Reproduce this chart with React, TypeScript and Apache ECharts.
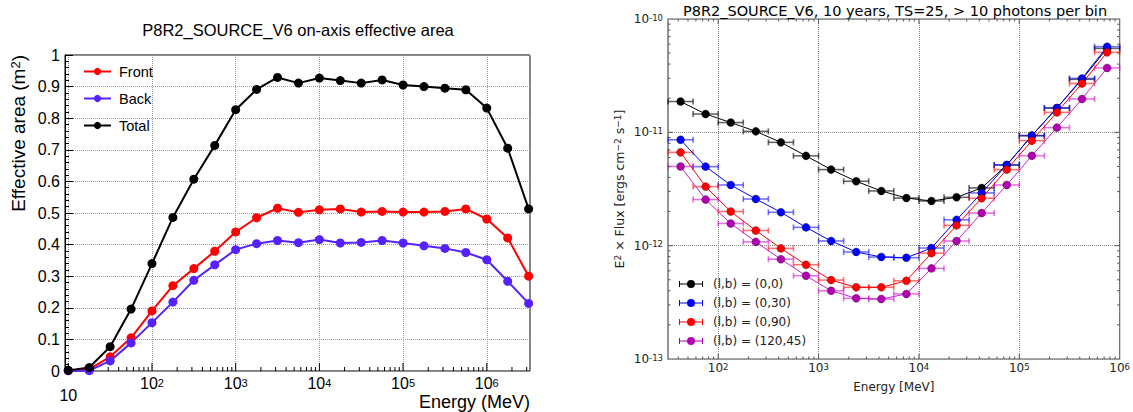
import React, { useEffect, useRef } from 'react';
import * as echarts from 'echarts';

// ---------------- Left chart: effective area ----------------
const areaEnergies = [10, 17.78, 31.62, 56.23, 100, 177.8, 316.2, 562.3, 1000, 1778, 3162, 5623, 10000, 17783, 31623, 56234, 100000, 177828, 316228, 562341, 1000000, 1778279, 3162278];
const areaFront = [0.001, 0.006, 0.045, 0.105, 0.190, 0.270, 0.324, 0.379, 0.440, 0.485, 0.515, 0.502, 0.510, 0.513, 0.503, 0.505, 0.503, 0.503, 0.505, 0.513, 0.481, 0.421, 0.300];
const areaBack = [0.001, 0.001, 0.032, 0.089, 0.153, 0.218, 0.287, 0.336, 0.384, 0.403, 0.413, 0.406, 0.416, 0.405, 0.407, 0.413, 0.405, 0.396, 0.388, 0.375, 0.352, 0.284, 0.214];
const areaTotal = [0.002, 0.011, 0.077, 0.196, 0.340, 0.486, 0.607, 0.714, 0.827, 0.891, 0.929, 0.911, 0.927, 0.919, 0.911, 0.921, 0.905, 0.900, 0.895, 0.890, 0.832, 0.705, 0.513];
const areaNames = ['Front', 'Back', 'Total'];

// ---------------- Right chart: sensitivity ----------------
const binCenters = [42.17, 74.99, 133.4, 237.1, 421.7, 749.9, 1334, 2371, 4217, 7499, 13335, 23714, 42170, 74989, 133352, 237137, 421697, 749894];
const binLow = [31.62, 56.23, 100, 177.8, 316.2, 562.3, 1000, 1778, 3162, 5623, 10000, 17783, 31623, 56234, 100000, 177828, 316228, 562341];
const binHigh = [56.23, 100, 177.8, 316.2, 562.3, 1000, 1778, 3162, 5623, 10000, 17783, 31623, 56234, 100000, 177828, 316228, 562341, 1000000];
const flux_0_0 = [1.87e-11, 1.45e-11, 1.22e-11, 1.02e-11, 8.16e-12, 6.2e-12, 4.69e-12, 3.7e-12, 3.04e-12, 2.63e-12, 2.48e-12, 2.67e-12, 3.23e-12, 5.15e-12, 9.35e-12, 1.64e-11, 2.94e-11, 5.5e-11];
const flux_0_30 = [8.6e-12, 4.98e-12, 3.43e-12, 2.58e-12, 1.97e-12, 1.45e-12, 1.10e-12, 8.8e-13, 7.94e-13, 7.83e-13, 9.53e-13, 1.69e-12, 2.92e-12, 5.15e-12, 9.35e-12, 1.64e-11, 2.99e-11, 5.7e-11];
const flux_0_90 = [6.66e-12, 3.32e-12, 2.0e-12, 1.36e-12, 9.46e-13, 6.79e-13, 4.97e-13, 4.29e-13, 4.29e-13, 4.9e-13, 8.6e-13, 1.51e-12, 2.62e-12, 4.69e-12, 8.44e-12, 1.5e-11, 2.7e-11, 5.08e-11];
const flux_120_45 = [5.0e-12, 2.55e-12, 1.57e-12, 1.08e-12, 7.6e-13, 5.43e-13, 4.0e-13, 3.43e-13, 3.38e-13, 3.75e-13, 6.3e-13, 1.1e-12, 1.94e-12, 3.43e-12, 6.22e-12, 1.1e-11, 1.97e-11, 3.7e-11];
const fluxNames = ['(l,b) = (0,0)', '(l,b) = (0,30)', '(l,b) = (0,90)', '(l,b) = (120,45)'];
// plotted in units of 1e-13 erg cm^-2 s^-1
const FLUX_UNIT = 1e-13;
const FLUX_UNIT_EXP = -13;

const LEFT_FONT = '"Liberation Sans", Arial, Helvetica, sans-serif';
const RIGHT_FONT = '"DejaVu Sans", "Liberation Sans", sans-serif';

function logMajors(min: number, max: number): number[] {
  const out: number[] = [];
  for (let d = Math.floor(Math.log10(min)); d <= Math.ceil(Math.log10(max)); d++) {
    const v = Math.pow(10, d);
    if (v > min * 1.0001 && v < max * 0.9999) out.push(v);
  }
  return out;
}
function logMinors(min: number, max: number): number[] {
  const out: number[] = [];
  for (let d = Math.floor(Math.log10(min)); d <= Math.ceil(Math.log10(max)); d++) {
    for (let m = 2; m <= 9; m++) {
      const v = m * Math.pow(10, d);
      if (v > min * 1.0001 && v < max * 0.9999) out.push(v);
    }
  }
  return out;
}

function tickRenderer(color: string, width: number) {
  return (params: any, api: any) => {
    const p = api.coord([api.value(0), api.value(1)]);
    const len = api.value(2);
    const side = api.value(3);
    let x2 = p[0];
    let y2 = p[1];
    if (side === 0) y2 = p[1] - len;
    else if (side === 1) y2 = p[1] + len;
    else if (side === 2) x2 = p[0] + len;
    else x2 = p[0] - len;
    return {
      type: 'line',
      shape: { x1: p[0], y1: p[1], x2, y2 },
      style: { stroke: color, lineWidth: width },
    };
  };
}

function errRenderer(color: string) {
  return (params: any, api: any) => {
    const lo = api.coord([api.value(0), api.value(2)]);
    const hi = api.coord([api.value(1), api.value(2)]);
    const st = { stroke: color, lineWidth: 1.6 };
    return {
      type: 'group',
      children: [
        { type: 'line', shape: { x1: lo[0], y1: lo[1], x2: hi[0], y2: hi[1] }, style: st },
        { type: 'line', shape: { x1: lo[0], y1: lo[1] - 3, x2: lo[0], y2: lo[1] + 3 }, style: st },
        { type: 'line', shape: { x1: hi[0], y1: hi[1] - 3, x2: hi[0], y2: hi[1] + 3 }, style: st },
      ],
    };
  };
}

export default function App() {
  const ref = useRef<HTMLDivElement>(null);

  useEffect(() => {
    if (!ref.current) return;
    const chart = echarts.init(ref.current, null, { renderer: 'svg' });

    // left axis ranges
    const LX_MIN = 9.134;
    const LX_MAX = 3.285e6;
    // right axis ranges
    const RX_MIN = 31.6228;
    const RX_MAX = 1e6;
    const RY_MIN = 1; // 1e-13
    const RY_MAX = 1000; // 1e-10

    const leftTicks: number[][] = [];
    logMajors(LX_MIN, LX_MAX).forEach((v) => leftTicks.push([v, 0, 8, 0]));
    logMinors(LX_MIN, LX_MAX).forEach((v) => leftTicks.push([v, 0, 4, 0]));

    const rightTicks: number[][] = [];
    logMajors(RX_MIN, RX_MAX).forEach((v) => {
      rightTicks.push([v, RY_MIN, 5, 0]);
      rightTicks.push([v, RY_MAX, 5, 1]);
    });
    logMinors(RX_MIN, RX_MAX).forEach((v) => {
      rightTicks.push([v, RY_MIN, 2.5, 0]);
      rightTicks.push([v, RY_MAX, 2.5, 1]);
    });
    logMajors(RY_MIN, RY_MAX).forEach((v) => {
      rightTicks.push([RX_MIN, v, 5, 2]);
      rightTicks.push([RX_MAX, v, 5, 3]);
    });
    logMinors(RY_MIN, RY_MAX).forEach((v) => {
      rightTicks.push([RX_MIN, v, 2.5, 2]);
      rightTicks.push([RX_MAX, v, 2.5, 3]);
    });

    const leftXLabel = (v: number) => {
      const l = Math.log10(v);
      const e = Math.round(l);
      if (Math.abs(l - e) > 0.01) return '';
      if (e === 1) return '{p|10}';
      return '{b|10}{s|' + e + '}';
    };
    const rightLabel = (offset: number) => (v: number) => {
      const l = Math.log10(v);
      const e = Math.round(l);
      if (Math.abs(l - e) > 0.01) return '';
      return '{b|10}{s|' + (e + offset) + '}';
    };

    const fluxSets = [flux_0_0, flux_0_30, flux_0_90, flux_120_45];
    const markerColors = ['#000000', '#0000ff', '#ff0000', '#b000b0'];
    const lineColors = ['#000000', '#0000ff', '#ff0000', '#cc22cc'];
    const errColors = ['rgba(0,0,0,0.6)', 'rgba(0,0,255,0.55)', 'rgba(255,0,0,0.55)', 'rgba(210,0,210,0.55)'];

    const rightSeries: any[] = [];
    fluxSets.forEach((vals, i) => {
      rightSeries.push({
        type: 'custom',
        name: fluxNames[i] + ' err',
        xAxisIndex: 1,
        yAxisIndex: 1,
        silent: true,
        renderItem: errRenderer(errColors[i]),
        encode: { x: [0, 1], y: 2 },
        data: vals.map((v, k) => [binLow[k], binHigh[k], v / FLUX_UNIT]),
        z: 3,
      });
      rightSeries.push({
        type: 'line',
        name: fluxNames[i],
        xAxisIndex: 1,
        yAxisIndex: 1,
        silent: true,
        symbol: 'circle',
        symbolSize: 8,
        showAllSymbol: true,
        lineStyle: { color: lineColors[i], width: 1 },
        itemStyle: { color: markerColors[i], borderColor: 'rgba(0,0,0,0.45)', borderWidth: 0.6 },
        data: vals.map((v, k) => [binCenters[k], v / FLUX_UNIT]),
        z: 3,
      });
    });

    const legendIcon =
      'path://M0,3.5L24,3.5L24,4.5L0,4.5Z M0,1L1,1L1,7L0,7Z M23,1L24,1L24,7L23,7Z M16,4A4,4 0 1 1 8,4A4,4 0 1 1 16,4Z';

    const leftColors = ['#ff0000', '#5522ff', '#000000'];
    const leftSets = [areaFront, areaBack, areaTotal];

    const option: any = {
      animation: false,
      backgroundColor: '#ffffff',
      title: [
        {
          text: 'P8R2_SOURCE_V6 on-axis effective area',
          left: 298,
          top: 21,
          textAlign: 'center',
          padding: 0,
          textStyle: { fontSize: 16.5, fontWeight: 'normal', fontFamily: LEFT_FONT, color: '#000' },
        },
        {
          text: 'P8R2_SOURCE_V6, 10 years, TS=25, > 10 photons per bin',
          left: 895,
          top: 3,
          textAlign: 'center',
          padding: 0,
          textStyle: { fontSize: 14.5, fontWeight: 'normal', fontFamily: RIGHT_FONT, color: '#000' },
        },
      ],
      legend: [
        {
          data: areaNames,
          orient: 'vertical',
          left: 83,
          top: 63,
          itemWidth: 27,
          itemHeight: 9,
          itemGap: 10,
          selectedMode: false,
          padding: 0,
          textStyle: { fontSize: 14.5, fontFamily: LEFT_FONT, color: '#000', lineHeight: 17, padding: [0, 0, 0, 3] },
        },
        {
          data: fluxNames.map((n) => ({ name: n, icon: legendIcon })),
          orient: 'vertical',
          left: 679,
          top: 277,
          itemWidth: 24,
          itemHeight: 8,
          itemGap: 5,
          selectedMode: false,
          padding: 0,
          itemStyle: { borderWidth: 0 },
          lineStyle: { width: 0 },
          textStyle: { fontSize: 12, fontFamily: RIGHT_FONT, color: '#222', lineHeight: 14, padding: [0, 0, 0, 5] },
        },
      ],
      grid: [
        { left: 65, top: 55, width: 465, height: 316, show: true, borderColor: '#000', borderWidth: 1, containLabel: false },
        { left: 668, top: 19, width: 454, height: 340, show: true, borderColor: '#555', borderWidth: 1.2, containLabel: false },
      ],
      xAxis: [
        {
          type: 'log',
          logBase: 10,
          gridIndex: 0,
          min: LX_MIN,
          max: LX_MAX,
          axisLine: { show: false },
          axisTick: { show: false },
          splitLine: { show: true, lineStyle: { type: 'dotted', color: '#999', width: 1 } },
          axisLabel: {
            formatter: leftXLabel,
            margin: 6,
            color: '#000',
            rich: {
              b: { fontSize: 16, fontFamily: LEFT_FONT, color: '#000', lineHeight: 14, verticalAlign: 'bottom', padding: [7, 0, 0, 0] },
              s: { fontSize: 11, fontFamily: LEFT_FONT, color: '#000', lineHeight: 11, verticalAlign: 'top' },
              p: { fontSize: 16, fontFamily: LEFT_FONT, color: '#000', lineHeight: 16, padding: [20, 0, 0, 0] },
            },
          },
        },
        {
          type: 'log',
          logBase: 10,
          gridIndex: 1,
          min: RX_MIN,
          max: RX_MAX,
          axisLine: { show: false },
          axisTick: { show: false },
          splitLine: { show: true, lineStyle: { type: 'dotted', color: '#888', width: 1 } },
          axisLabel: {
            formatter: rightLabel(0),
            margin: 3,
            color: '#222',
            rich: {
              b: { fontSize: 12, fontFamily: RIGHT_FONT, color: '#222', lineHeight: 12, verticalAlign: 'bottom', padding: [3, 0, 0, 0] },
              s: { fontSize: 8.5, fontFamily: RIGHT_FONT, color: '#222', lineHeight: 9, verticalAlign: 'top' },
            },
          },
          name: 'Energy [MeV]',
          nameLocation: 'middle',
          nameGap: 22,
          nameTextStyle: { fontSize: 12, fontFamily: RIGHT_FONT, color: '#222' },
        },
      ],
      yAxis: [
        {
          type: 'value',
          gridIndex: 0,
          min: 0,
          max: 1,
          interval: 0.1,
          axisLine: { show: true, lineStyle: { color: '#000', width: 1 } },
          axisTick: { show: true, inside: true, length: 8, lineStyle: { color: '#000', width: 1 } },
          minorTick: { show: true, splitNumber: 5, length: 4, lineStyle: { color: '#000', width: 1 } },
          splitLine: { show: true, lineStyle: { type: 'dotted', color: '#999', width: 1 } },
          axisLabel: {
            margin: 5,
            fontSize: 16,
            fontFamily: LEFT_FONT,
            color: '#000',
            formatter: (v: number) => (v === 0 ? '0' : Math.abs(v - 1) < 1e-9 ? '1' : v.toFixed(1)),
          },
        },
        {
          type: 'log',
          logBase: 10,
          gridIndex: 1,
          min: RY_MIN,
          max: RY_MAX,
          splitNumber: 3,
          axisLine: { show: false },
          axisTick: { show: false },
          splitLine: { show: true, lineStyle: { type: 'dotted', color: '#888', width: 1 } },
          axisLabel: {
            formatter: rightLabel(FLUX_UNIT_EXP),
            margin: 5,
            color: '#222',
            rich: {
              b: { fontSize: 12, fontFamily: RIGHT_FONT, color: '#222', lineHeight: 12, verticalAlign: 'bottom', padding: [3, 0, 0, 0] },
              s: { fontSize: 8.5, fontFamily: RIGHT_FONT, color: '#222', lineHeight: 9, verticalAlign: 'top' },
            },
          },
          name: '{t|E}{s|2}{t| × Flux [ergs cm}{s|−2}{t| s}{s|−1}{t|]}',
          nameLocation: 'middle',
          nameRotate: 90,
          nameGap: 42,
          nameTextStyle: {
            rich: {
              t: { fontSize: 12.5, fontFamily: RIGHT_FONT, color: '#222', lineHeight: 12.5, verticalAlign: 'bottom', padding: [3, 0, 0, 0] },
              s: { fontSize: 9, fontFamily: RIGHT_FONT, color: '#222', lineHeight: 9, verticalAlign: 'top' },
            },
          },
        },
      ],
      graphic: [
        {
          type: 'text',
          x: 18,
          y: 55,
          rotation: Math.PI / 2,
          silent: true,
          style: {
            text: '{t|Effective area (m}{s|2}{t|)}',
            align: 'right',
            verticalAlign: 'middle',
            rich: {
              t: { fontSize: 19, fontFamily: LEFT_FONT, fill: '#000', color: '#000', lineHeight: 19, verticalAlign: 'bottom', padding: [5, 0, 0, 0] },
              s: { fontSize: 13, fontFamily: LEFT_FONT, fill: '#000', color: '#000', lineHeight: 13, verticalAlign: 'top' },
            },
          },
        },
        {
          type: 'text',
          x: 530,
          y: 401.5,
          silent: true,
          style: {
            text: 'Energy (MeV)',
            align: 'right',
            verticalAlign: 'middle',
            fontSize: 18,
            fontFamily: LEFT_FONT,
            fill: '#000',
          },
        },
      ],
      series: [
        ...leftSets.map((vals, i) => ({
          type: 'line',
          name: areaNames[i],
          xAxisIndex: 0,
          yAxisIndex: 0,
          silent: true,
          symbol: 'circle',
          symbolSize: 9,
          showAllSymbol: true,
          lineStyle: { color: leftColors[i], width: 2 },
          itemStyle: { color: leftColors[i] },
          data: vals.map((v, k) => [areaEnergies[k], v]),
          z: 3,
        })),
        {
          type: 'custom',
          name: 'left-ticks',
          xAxisIndex: 0,
          yAxisIndex: 0,
          silent: true,
          clip: false,
          renderItem: tickRenderer('#000', 1),
          encode: { x: 0, y: 1 },
          data: leftTicks,
          z: 5,
        },
        ...rightSeries,
        {
          type: 'custom',
          name: 'right-ticks',
          xAxisIndex: 1,
          yAxisIndex: 1,
          silent: true,
          clip: false,
          renderItem: tickRenderer('#555', 1),
          encode: { x: 0, y: 1 },
          data: rightTicks,
          z: 5,
        },
      ],
    };

    chart.setOption(option);
    return () => chart.dispose();
  }, []);

  return (
    <div
      ref={ref}
      style={{ position: 'absolute', left: 0, top: 0, width: 1133, height: 412, background: '#fff' }}
    />
  );
}
